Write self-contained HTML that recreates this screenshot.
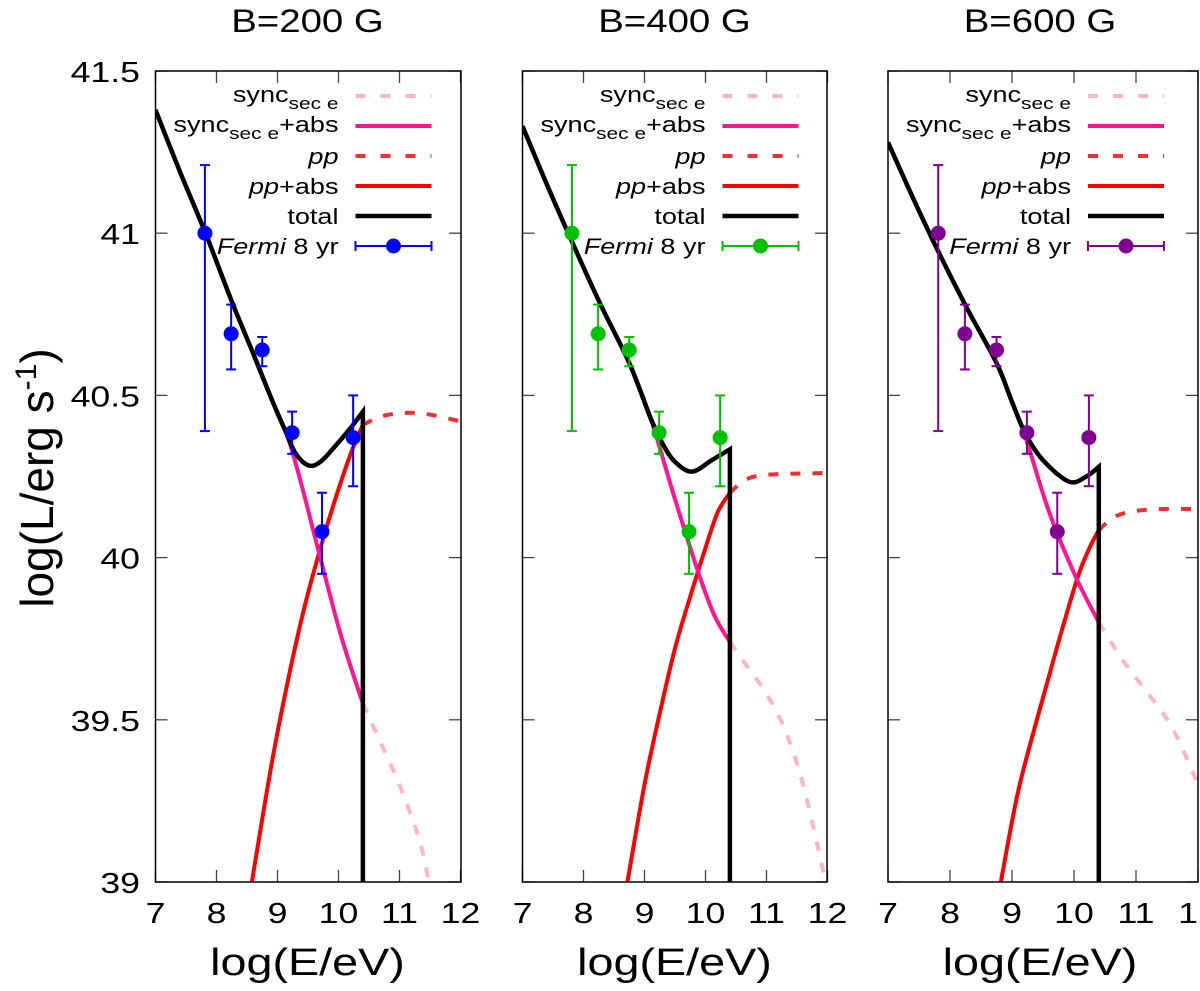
<!DOCTYPE html>
<html><head><meta charset="utf-8"><style>
html,body{margin:0;padding:0;background:#fff;}
svg{display:block;font-family:"Liberation Sans",sans-serif;}
</style></head><body>
<svg id="chart" width="1200" height="991" viewBox="0 0 1200 991"></svg>
<script>
const xTicks=[7,8,9,10,11,12];
const yTicks=[39,39.5,40,40.5,41,41.5];
const yTickLabels=["39","39.5","40","40.5","41","41.5"];
const titles=["B=200 G","B=400 G","B=600 G"];
const dataColors=["#0000ff","#00c000","#800090"];
const fermiE=[7.81,8.24,8.75,9.24,9.73,10.24];
const fermiL=[41.0,40.69,40.64,40.385,40.08,40.37];
const fermiLo=[40.39,40.58,40.59,40.32,39.95,40.22];
const fermiHi=[41.21,40.78,40.68,40.45,40.2,40.5];
const cutE=10.4;
// total
const total1E=[7,7.4,7.82,8.25,8.6,8.9,9.13,9.3,9.51,9.7,9.93,10.2,10.4];
const total1L=[41.38,41.19,41.0,40.79,40.63,40.49,40.39,40.32,40.284,40.295,40.34,40.4,40.45];
const total2E=[7,7.4,7.82,8.28,8.75,9.1,9.3,9.5,9.78,10.1,10.4];
const total2L=[41.33,41.15,40.97,40.78,40.6,40.43,40.35,40.295,40.265,40.3,40.334];
const total3E=[7,7.4,7.82,8.27,8.75,9.0,9.22,9.5,9.92,10.2,10.4];
const total3L=[41.28,41.11,40.94,40.77,40.6,40.48,40.38,40.3,40.234,40.25,40.28];
// sync (solid until cut, dashed after)
const sync1E=[8.9,9.17,9.4,9.66,10.04,10.4,10.69,11.02,11.34,11.5];
const sync1L=[40.49,40.37,40.22,40.03,39.76,39.55,39.43,39.29,39.12,38.98];
const sync2E=[9.1,9.5,9.89,10.15,10.4,10.7,11.0,11.3,11.6,11.97];
const sync2L=[40.43,40.18,39.95,39.82,39.74,39.66,39.58,39.47,39.3,39.0];
const sync3E=[9.0,9.22,9.6,10.03,10.4,10.8,11.2,11.6,12.0,12.2];
const sync3L=[40.48,40.37,40.14,39.94,39.8,39.68,39.58,39.47,39.3,39.2];
// pp (solid until cut, dashed after)
const pp1E=[8.58,8.9,9.17,9.42,9.66,9.93,10.2,10.4,10.8,11.34,12,12.2];
const pp1L=[39.0,39.36,39.62,39.83,40.0,40.17,40.32,40.41,40.44,40.445,40.42,40.41];
const pp2E=[8.72,9.0,9.25,9.5,9.75,10.0,10.2,10.4,10.8,11.8,12.2];
const pp2L=[39.0,39.3,39.52,39.72,39.88,40.03,40.14,40.2,40.25,40.26,40.26];
const pp3E=[8.82,9.1,9.43,9.75,10.06,10.25,10.4,10.7,11.2,12,12.2];
const pp3L=[39.0,39.28,39.52,39.74,39.94,40.03,40.085,40.13,40.148,40.15,40.15];
const panels=[
 {L:155.5,R:461,U:61,tE:total1E,tL:total1L,sE:sync1E,sL:sync1L,pE:pp1E,pL:pp1L},
 {L:522.5,R:827,U:61,tE:total2E,tL:total2L,sE:sync2E,sL:sync2L,pE:pp2E,pL:pp2L},
 {L:888,R:1198,U:62,tE:total3E,tL:total3L,sE:sync3E,sL:sync3L,pE:pp3E,pL:pp3L}];
const TOP=71,BOT=882,SX=1.23;
const svg=document.getElementById('chart');
const NS='http://www.w3.org/2000/svg';
function mk(t,a,p){const e=document.createElementNS(NS,t);for(const k in a)e.setAttribute(k,a[k]);(p||svg).appendChild(e);return e;}
function txt(x,y,size,anchor,parent,sx){return mk('text',{x:0,y:0,'font-size':size,'text-anchor':anchor,transform:'translate('+x+','+y+') scale('+(sx||SX)+',1)'},parent);}
function yS(v){return BOT-(v-39)/2.5*(BOT-TOP);}
function path(xs,ys,xf){let pts=xs.map((e,i)=>[xf(e),yS(ys[i])]);let d='M'+pts[0][0]+','+pts[0][1];
 for(let i=0;i<pts.length-1;i++){const p0=pts[Math.max(0,i-1)],p1=pts[i],p2=pts[i+1],p3=pts[Math.min(pts.length-1,i+2)];
 d+=' C'+(p1[0]+(p2[0]-p0[0])/6)+','+(p1[1]+(p2[1]-p0[1])/6)+' '+(p2[0]-(p3[0]-p1[0])/6)+','+(p2[1]-(p3[1]-p1[1])/6)+' '+p2[0]+','+p2[1];}
 return d;}
function split(E,Lv){const a=[[],[]],b=[[],[]];E.forEach((e,i)=>{if(e<=cutE+1e-9){a[0].push(e);a[1].push(Lv[i]);}if(e>=cutE-1e-9){b[0].push(e);b[1].push(Lv[i]);}});return [a,b];}
panels.forEach((p,k)=>{
 const g=mk('g',{});
 
 
 const xf=e=>p.L+(e-7)*p.U;
 const cid='clip'+k;
 const cp=mk('clipPath',{id:cid},g);mk('rect',{x:p.L,y:TOP,width:p.R-p.L,height:BOT-TOP},cp);
 const t=txt(p.L+152,32,32,'middle',g,1.2);t.textContent=titles[k];
 
 xTicks.forEach(v=>{const x=xf(v);if(x>p.R+1)return;
  mk('line',{x1:x,x2:x,y1:BOT,y2:BOT-12,stroke:'#444','stroke-width':1.3},g);mk('line',{x1:x,x2:x,y1:TOP,y2:TOP+12,stroke:'#444','stroke-width':1.3},g);
  const tl=txt(x,923,29,'middle',g);tl.textContent=v;
  });
 yTicks.forEach((v,i)=>{const y=yS(v);
  mk('line',{x1:p.L,x2:p.L+12,y1:y,y2:y,stroke:'#444','stroke-width':1.3},g);mk('line',{x1:p.R,x2:p.R-12,y1:y,y2:y,stroke:'#444','stroke-width':1.3},g);
  if(k==0){const tl=txt(140,y+11,29,'end',g);tl.textContent=yTickLabels[i];
  }});
 const cg=mk('g',{'clip-path':'url(#'+cid+')',fill:'none'},g);
 const [sa,sb]=split(p.sE,p.sL),[pa,pb]=split(p.pE,p.pL);
 mk('path',{d:path(sb[0],sb[1],xf),stroke:'#ffb6c1','stroke-width':4,'stroke-dasharray':'10,12'},cg);
 mk('path',{d:path(pb[0],pb[1],xf),stroke:'#ef3030','stroke-width':4,'stroke-dasharray':'10,12'},cg);
 mk('path',{d:path(pa[0],pa[1],xf),stroke:'#ff0000','stroke-width':4},cg);
 const pre=p.tE.map((e,i)=>[e,p.tL[i]]).filter(q=>q[0]<sa[0][0]-1e-9);
 const sfullE=pre.map(q=>q[0]).concat(sa[0]);const sfullL=pre.map(q=>q[1]).concat(sa[1]);
 mk('path',{d:path(sfullE,sfullL,xf),stroke:'#ff1493','stroke-width':4},cg);
 mk('path',{d:path(p.tE,p.tL,xf)+' L'+xf(cutE)+','+(BOT+5),stroke:'#000','stroke-width':4.5},cg);
 fermiE.forEach((e,i)=>{const x=xf(e),c=dataColors[k];
  const dg=mk('g',{stroke:c,'stroke-width':2,fill:c},cg);
  
  mk('line',{x1:x,x2:x,y1:yS(fermiLo[i]),y2:yS(fermiHi[i])},dg);
  mk('line',{x1:x-5,x2:x+5,y1:yS(fermiLo[i]),y2:yS(fermiLo[i])},dg);
  mk('line',{x1:x-5,x2:x+5,y1:yS(fermiHi[i]),y2:yS(fermiHi[i])},dg);
  mk('circle',{cx:x,cy:yS(fermiL[i]),r:7.5,stroke:'none'},dg);});
 mk('rect',{x:p.L,y:TOP,width:p.R-p.L,height:BOT-TOP,fill:'none',stroke:'#000','stroke-width':1.5},g);
 const lx=p.L+183,sx=p.L+200,ex=p.L+276;
 const lg=mk('g',{},g);
 
 const rows=[96,126,156,186,216,246];
 let t1=txt(lx,rows[0]+6,22,'end',lg);t1.innerHTML='sync<tspan font-size="17" dy="7">sec e</tspan>';
 let t2=txt(lx,rows[1]+6,22,'end',lg);t2.innerHTML='sync<tspan font-size="17" dy="7">sec e</tspan><tspan dy="-7">+abs</tspan>';
 let t3=txt(lx,rows[2]+8,22,'end',lg);t3.innerHTML='<tspan font-style="italic">pp</tspan>';
 let t4=txt(lx,rows[3]+8,22,'end',lg);t4.innerHTML='<tspan font-style="italic">pp</tspan>+abs';
 let t5=txt(lx,rows[4]+8,22,'end',lg);t5.textContent='total';
 let t6=txt(lx,rows[5]+8,22,'end',lg);t6.innerHTML='<tspan font-style="italic">Fermi</tspan> 8 yr';
 mk('line',{x1:sx,x2:ex,y1:rows[0],y2:rows[0],stroke:'#ffb6c1','stroke-width':4,'stroke-dasharray':'10,15'},lg);
 mk('line',{x1:sx,x2:ex,y1:rows[1],y2:rows[1],stroke:'#ff1493','stroke-width':4},lg);
 mk('line',{x1:sx,x2:ex,y1:rows[2],y2:rows[2],stroke:'#ef3030','stroke-width':4,'stroke-dasharray':'10,15'},lg);
 mk('line',{x1:sx,x2:ex,y1:rows[3],y2:rows[3],stroke:'#ff0000','stroke-width':4},lg);
 mk('line',{x1:sx,x2:ex,y1:rows[4],y2:rows[4],stroke:'#000','stroke-width':4.5},lg);
 const c=dataColors[k];
 mk('line',{x1:sx,x2:ex,y1:rows[5],y2:rows[5],stroke:c,'stroke-width':2},lg);
 mk('line',{x1:sx,x2:sx,y1:rows[5]-5,y2:rows[5]+5,stroke:c,'stroke-width':2},lg);
 mk('line',{x1:ex,x2:ex,y1:rows[5]-5,y2:rows[5]+5,stroke:c,'stroke-width':2},lg);
 mk('circle',{cx:(sx+ex)/2,cy:rows[5],r:7.5,fill:c},lg);
 const xl=txt(p.L+152,975,38,'middle',g);xl.textContent='log(E/eV)';
 
});
const yl=mk('text',{x:0,y:0,'font-size':46,'text-anchor':'middle',transform:'translate(53,478) rotate(-90)'});
yl.innerHTML='log(L/erg s<tspan font-size="30" dy="-17">-1</tspan><tspan dy="17">)</tspan>';


</script>
</body></html>
